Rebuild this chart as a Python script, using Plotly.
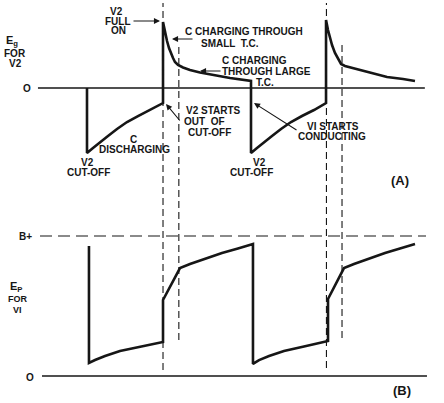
import plotly.graph_objects as go

# ---------------- data (time in arbitrary units, voltages in arbitrary units) -------------
# (A) grid voltage Eg of V2
eg_t = [0.0, 0.0, 0.73, 1.59, 2.56, 3.66, 4.88, 6.22, 7.68, 9.27,
        9.27, 9.51, 9.76, 10.0, 10.24, 10.49, 10.73, 11.10,
        11.71, 12.56, 13.78, 15.37, 17.44, 20.0,
        20.0, 20.73, 21.59, 22.56, 23.66, 24.88, 26.22, 27.68, 29.15,
        29.15, 29.39, 29.63, 29.88, 30.24, 30.61, 30.98,
        31.46, 32.44, 34.51, 36.59, 38.54, 40.0]
eg_v = [0.0, -9.56, -8.82, -7.94, -7.06, -6.03, -5.0, -4.12, -3.24, -2.21,
        9.71, 8.24, 6.91, 5.88, 5.0, 4.41, 3.82, 3.38,
        3.01, 2.65, 2.28, 1.91, 1.47, 1.03,
        -9.56, -8.82, -7.94, -7.06, -6.03, -5.0, -4.12, -3.24, -2.21,
        10.0, 8.53, 7.35, 6.32, 5.15, 4.26, 3.53,
        3.24, 2.94, 2.21, 1.62, 1.32, 1.03]

# (B) plate voltage Ep of V1
ep_t = [0.24, 0.24, 0.98, 2.2, 4.02, 6.46, 9.27,
        9.27, 11.34, 12.56, 14.39, 16.46, 18.41, 20.24,
        20.24, 20.98, 22.2, 24.02, 26.46, 29.39,
        29.39, 31.34, 32.56, 34.39, 36.34, 38.17, 40.0]
ep_v = [9.29, 0.93, 1.14, 1.43, 1.79, 2.11, 2.43,
        5.43, 7.71, 8.0, 8.39, 8.79, 9.11, 9.43,
        0.86, 1.14, 1.43, 1.79, 2.11, 2.5,
        5.5, 7.71, 8.0, 8.39, 8.79, 9.11, 9.43]

eg_axis_t = [-5.98, 41.2]          # zero line of panel A
ep_axis_t = [-5.49, 41.46]         # zero line of panel B
bplus_t = [-5.73, 41.34]           # B+ reference
bplus_level = 10.0
event_t = [9.27, 11.2, 29.2, 31.1]  # dashed timing markers

# ---------------- layout mapping -----------------
W, H = 444, 403
X0_PX, PX_PER_T = 87, 8.2
EG0_PX, PX_PER_EG = 88, 6.8
EP0_PX, PX_PER_EP = 376, 14.0

xr = [(0 - X0_PX) / PX_PER_T, (W - X0_PX) / PX_PER_T]
yr1 = [(EG0_PX - H) / PX_PER_EG, EG0_PX / PX_PER_EG]
yr2 = [(EP0_PX - H) / PX_PER_EP, EP0_PX / PX_PER_EP]

INK = "#161616"
FONT = "Arial, Liberation Sans, sans-serif"

fig = go.Figure()
fig.add_trace(go.Scatter(x=eg_axis_t, y=[0, 0], mode="lines",
                         line=dict(color=INK, width=1.5), hoverinfo="skip"))
fig.add_trace(go.Scatter(x=ep_axis_t, y=[0, 0], yaxis="y2", mode="lines",
                         line=dict(color=INK, width=1.5), hoverinfo="skip"))
fig.add_trace(go.Scatter(x=bplus_t, y=[bplus_level] * 2, yaxis="y2", mode="lines",
                         line=dict(color=INK, width=1.1, dash="12px,6px"), hoverinfo="skip"))
fig.add_trace(go.Scatter(x=eg_t, y=eg_v, mode="lines",
                         line=dict(color=INK, width=2.6), hoverinfo="skip"))
fig.add_trace(go.Scatter(x=ep_t, y=ep_v, yaxis="y2", mode="lines",
                         line=dict(color=INK, width=2.6), hoverinfo="skip"))

# dashed timing markers (vertical extent in pixels)
tops = [3, 45, 3, 42]
bottoms = [370, 340, 368, 338]
for t, a, b in zip(event_t, tops, bottoms):
    fig.add_shape(type="line", xref="x", yref="paper", x0=t, x1=t,
                  y0=1 - b / H, y1=1 - a / H,
                  line=dict(color=INK, width=1.1, dash="7px,4px"))


def P(x, y):
    return x / W, 1 - y / H


labels = [
    ("V2", 117, 11, 10), ("FULL", 118, 21, 10), ("ON", 118, 31, 10),
    ("C CHARGING THROUGH", 244, 32, 10), ("SMALL  T.C.", 230, 43, 10),
    ("C CHARGING", 254, 61, 10), ("THROUGH LARGE", 266, 71, 10), ("T.C.", 265, 82, 10),
    ("V2 STARTS", 213, 110, 10), ("OUT  OF", 204, 121, 10), ("CUT-OFF", 209, 132, 10),
    ("C", 133, 140, 10), ("DISCHARGING", 134, 150, 10),
    ("V2", 87, 163, 10), ("CUT-OFF", 88, 173, 10),
    ("V2", 259, 163, 10), ("CUT-OFF", 251, 173, 10),
    ("VI STARTS", 333, 126, 10), ("CONDUCTING", 332, 136, 10),
    ("(A)", 400, 180, 13), ("(B)", 402, 390, 13),
    ("E<sub>g</sub>", 12, 41, 11), ("FOR", 15, 53, 10), ("V2", 15, 64, 10),
    ("O", 27, 88, 10), ("B+", 25, 236, 10), ("O", 30, 377, 10),
    ("E<sub>P</sub>", 16, 287, 11), ("FOR", 17, 299, 9), ("VI", 17, 310, 9),
]
for txt, x, y, s in labels:
    px_, py_ = P(x, y)
    fig.add_annotation(x=px_, y=py_, xref="paper", yref="paper", text="<b>" + txt + "</b>",
                       showarrow=False, xanchor="center", yanchor="middle",
                       font=dict(family=FONT, size=s, color=INK))

arrows = [((160, 21), (132, 21)), ((172, 39), (194, 39)), ((200, 71), (222, 71)),
          ((166, 104), (181, 122)), ((254, 103), (298, 131))]
for (hx, hy), (tx, ty) in arrows:
    px_, py_ = P(hx, hy)
    fig.add_annotation(x=px_, y=py_, xref="paper", yref="paper", text="",
                       showarrow=True, ax=tx - hx, ay=ty - hy, axref="pixel", ayref="pixel",
                       arrowhead=2, arrowsize=1.1, arrowwidth=1.1, arrowcolor=INK, standoff=0)

fig.update_layout(
    width=W, height=H, margin=dict(l=0, r=0, t=0, b=0),
    paper_bgcolor="white", plot_bgcolor="white", showlegend=False,
    xaxis=dict(range=xr, visible=False, fixedrange=True),
    yaxis=dict(range=yr1, visible=False, fixedrange=True),
    yaxis2=dict(range=yr2, visible=False, overlaying="y", fixedrange=True),
)
fig.write_html("out.html", config={"displayModeBar": False},
               post_script="document.body.style.margin='0';document.body.style.padding='0';")
